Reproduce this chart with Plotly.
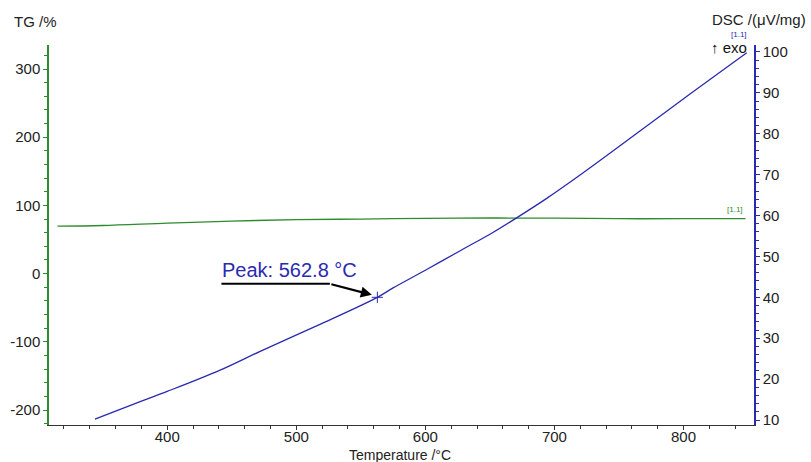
import plotly.graph_objects as go

# Data
dsc_temp = [344, 379, 400, 441, 472, 517, 562.8, 575, 601, 627, 652, 671, 694, 722, 766, 805, 849]
dsc_val = [10.2, 14.5, 17.0, 22.2, 26.8, 33.2, 40.0, 42.3, 46.8, 51.4, 55.8, 59.5, 64.2, 70.4, 80.6, 89.7, 99.8]
tg_temp = [315, 350, 400, 450, 500, 550, 600, 650, 700, 750, 800, 848]
tg_val = [69.5, 70.5, 74.0, 77.0, 79.0, 80.0, 81.0, 81.5, 81.3, 80.5, 80.5, 80.5]
peak_temp = 562.8
peak_dsc = 40.0
tg_ticks = [-200, -100, 0, 100, 200, 300]
tg_ticklabels = ["-200", "-100", "0", "100", "200", "300"]
dsc_ticks = [10, 20, 30, 40, 50, 60, 70, 80, 90, 100]
temp_ticks = [400, 500, 600, 700, 800]

GREEN = "#2e8b2e"
BLUE = "#2a2ab0"
FONT = "Liberation Sans, Arial, sans-serif"

fig = go.Figure()
fig.add_trace(go.Scatter(x=tg_temp, y=tg_val, mode="lines",
                         line=dict(color=GREEN, width=1.3, shape="spline", smoothing=1.0),
                         yaxis="y", showlegend=False, hoverinfo="skip"))
fig.add_trace(go.Scatter(x=dsc_temp, y=dsc_val, mode="lines",
                         line=dict(color=BLUE, width=1.3, shape="spline", smoothing=1.0),
                         yaxis="y2", showlegend=False, hoverinfo="skip"))
fig.add_trace(go.Scatter(x=[peak_temp], y=[peak_dsc], mode="markers",
                         marker=dict(symbol="cross-thin", size=8, line=dict(color=BLUE, width=1)),
                         yaxis="y2", showlegend=False, hoverinfo="skip"))

ML, MR, MT, MB = 49, 57, 45, 37
PW, PH = 811 - ML - MR, 462 - MT - MB

fig.update_layout(
    width=811, height=462,
    margin=dict(l=ML, r=MR, t=MT, b=MB),
    paper_bgcolor="white", plot_bgcolor="white",
    font=dict(family=FONT, size=15, color="#222"),
    xaxis=dict(range=[308.4, 854.6], tickvals=temp_ticks, showgrid=False, zeroline=False,
               showline=True, linecolor="#333", linewidth=1, ticks="outside", ticklen=4,
               tickcolor="#333", minor=dict(dtick=20, ticks="outside", ticklen=3, tickcolor="#333"),
               tickfont=dict(size=15), ticklabelstandoff=-6, automargin=False),
    yaxis=dict(range=[-222, 335.2], tickvals=tg_ticks, ticktext=tg_ticklabels, showgrid=False, zeroline=False,
               showline=True, linecolor=GREEN, linewidth=1.5, ticks="outside", ticklen=4, tickcolor=GREEN,
               minor=dict(dtick=20, ticks="outside", ticklen=3, tickcolor=GREEN),
               tickfont=dict(size=15), automargin=False),
    yaxis2=dict(range=[8.78, 101.7], tickvals=dsc_ticks, overlaying="y", side="right",
                showgrid=False, zeroline=False, showline=True, linecolor=BLUE, linewidth=1.5,
                ticks="outside", ticklen=4, tickcolor=BLUE,
                minor=dict(dtick=2, ticks="outside", ticklen=3, tickcolor=BLUE),
                tickfont=dict(size=15), automargin=False),
)

fig.add_annotation(text="Temperature /°C", xref="paper", yref="paper", x=(400 - ML) / PW, y=-(455 - 462 + MB) / PH,
                   xanchor="center", yanchor="middle", showarrow=False, font=dict(size=14))
fig.add_annotation(text="TG /%", xref="paper", yref="paper", x=(12 - ML) / PW, y=1 + (MT - 22) / PH, xanchor="left",
                   yanchor="middle", showarrow=False, font=dict(size=15))
fig.add_annotation(text="DSC /(μV/mg)", xref="paper", yref="paper", x=(808 - ML) / PW, y=1 + (MT - 20) / PH,
                   xanchor="right", yanchor="middle", showarrow=False, font=dict(size=15))
fig.add_annotation(text="↑ exo", xref="paper", yref="paper", x=(749 - ML) / PW, y=1 - (47 - MT) / PH,
                   xanchor="right", yanchor="middle", showarrow=False, font=dict(size=15, color="#111"))
fig.add_annotation(text="[1.1]", xref="paper", yref="paper", x=(749 - ML) / PW, y=1 + (MT - 34) / PH,
                   xanchor="right", yanchor="middle", showarrow=False, font=dict(size=8, color=BLUE))
fig.add_annotation(text="[1.1]", x=848, y=84.0, xref="x", yref="y", xanchor="right", yanchor="bottom",
                   showarrow=False, font=dict(size=8, color=GREEN))
fig.add_annotation(text="Peak: 562.8 °C", x=441, y=43.4, xref="x", yref="y2", xanchor="left",
                   yanchor="bottom", showarrow=False, font=dict(size=20, color=BLUE))
# underline / leader line
fig.add_shape(type="line", x0=442, y0=43.3, x1=526, y1=43.3, xref="x", yref="y2",
              line=dict(color="black", width=2))
fig.add_annotation(x=558.5, y=40.6, xref="x", yref="y2", ax=526, ay=43.3, axref="x", ayref="y2",
                   text="", showarrow=True, arrowhead=2, arrowsize=1, arrowwidth=2.2, arrowcolor="black",
                   standoff=0)

fig.write_html("out.html")
